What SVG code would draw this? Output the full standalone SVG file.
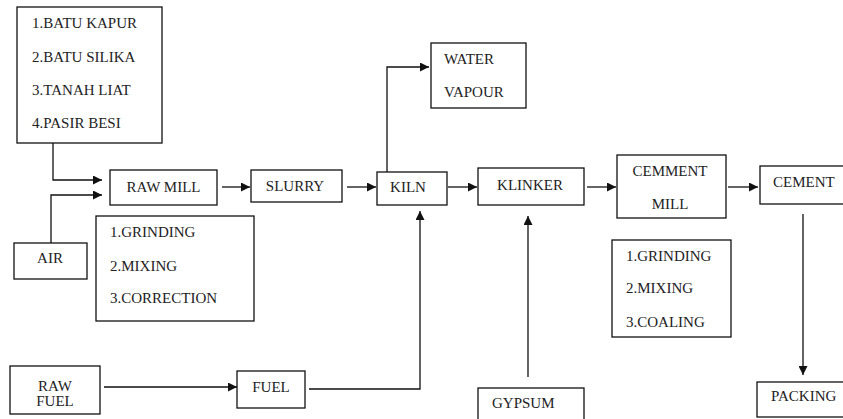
<svg xmlns="http://www.w3.org/2000/svg" width="843" height="419" viewBox="0 0 843 419" font-family="Liberation Serif, DejaVu Serif, serif">
<style>
.b{fill:#fff;stroke:#111;stroke-width:1.3}
.t{font-size:15px;fill:#222}
.c{stroke:#111;stroke-width:1.3;fill:none}
</style>
<defs>
<marker id="ah" viewBox="0 0 10 10" refX="10" refY="5" markerWidth="9" markerHeight="9" markerUnits="userSpaceOnUse" orient="auto">
<path d="M0,0 L10,5 L0,10 z" fill="#111"/>
</marker>
</defs>
<rect width="843" height="419" fill="#fff"/>
<g id="raw-materials"><rect class="b" x="17" y="7" width="145" height="136"/>
<text class="t" x="32" y="28">1.BATU KAPUR</text>
<text class="t" x="32" y="62">2.BATU SILIKA</text>
<text class="t" x="32" y="95">3.TANAH LIAT</text>
<text class="t" x="32" y="128">4.PASIR BESI</text></g>
<g id="raw-mill"><rect class="b" x="110" y="170" width="107" height="35"/>
<text class="t" x="163.5" y="192" text-anchor="middle">RAW MILL</text></g>
<g id="air"><rect class="b" x="14" y="243" width="73" height="36"/>
<text class="t" x="50" y="263" text-anchor="middle">AIR</text></g>
<g id="raw-mill-steps"><rect class="b" x="96" y="216" width="158" height="105"/>
<text class="t" x="110" y="237">1.GRINDING</text>
<text class="t" x="110" y="271">2.MIXING</text>
<text class="t" x="110" y="303">3.CORRECTION</text></g>
<g id="slurry"><rect class="b" x="251" y="170" width="91" height="32"/>
<text class="t" x="295" y="191" text-anchor="middle">SLURRY</text></g>
<g id="kiln"><rect class="b" x="377" y="172" width="70" height="33"/>
<text class="t" x="408" y="192" text-anchor="middle">KILN</text></g>
<g id="water-vapour"><rect class="b" x="431" y="43" width="95" height="65"/>
<text class="t" x="444" y="64">WATER</text>
<text class="t" x="444" y="97">VAPOUR</text></g>
<g id="klinker"><rect class="b" x="478" y="168" width="106" height="37"/>
<text class="t" x="530" y="190" text-anchor="middle">KLINKER</text></g>
<g id="cemment-mill"><rect class="b" x="617" y="155" width="109" height="63"/>
<text class="t" x="670" y="176" text-anchor="middle">CEMMENT</text>
<text class="t" x="670" y="209" text-anchor="middle">MILL</text></g>
<g id="cement-mill-steps"><rect class="b" x="612" y="240" width="119" height="97"/>
<text class="t" x="626" y="261">1.GRINDING</text>
<text class="t" x="626" y="293">2.MIXING</text>
<text class="t" x="626" y="327">3.COALING</text></g>
<g id="cement"><rect class="b" x="760" y="166" width="90" height="38"/>
<text class="t" x="773" y="187">CEMENT</text></g>
<g id="raw-fuel"><rect class="b" x="10" y="366" width="90" height="48"/>
<text class="t" x="55" y="391" text-anchor="middle">RAW</text>
<text class="t" x="55" y="406" text-anchor="middle">FUEL</text></g>
<g id="fuel"><rect class="b" x="237" y="371" width="68" height="37"/>
<text class="t" x="271" y="392" text-anchor="middle">FUEL</text></g>
<g id="gypsum"><rect class="b" x="478" y="388" width="106" height="40"/>
<text class="t" x="492" y="408">GYPSUM</text></g>
<g id="packing"><rect class="b" x="757" y="382" width="95" height="35"/>
<text class="t" x="771" y="401">PACKING</text></g>
<g id="connectors">
<path class="c" d="M53,143 V180 H102" marker-end="url(#ah)"/>
<path class="c" d="M51,243 V195 H102" marker-end="url(#ah)"/>
<path class="c" d="M222,187 H250" marker-end="url(#ah)"/>
<path class="c" d="M347,187 H376" marker-end="url(#ah)"/>
<path class="c" d="M387,172 V67 H429" marker-end="url(#ah)"/>
<path class="c" d="M448,187 H477" marker-end="url(#ah)"/>
<path class="c" d="M587,187 H616" marker-end="url(#ah)"/>
<path class="c" d="M728,187 H758" marker-end="url(#ah)"/>
<path class="c" d="M803,214 V375" marker-end="url(#ah)"/>
<path class="c" d="M104,387 H237" marker-end="url(#ah)"/>
<path class="c" d="M309,389 H420 V211" marker-end="url(#ah)"/>
<path class="c" d="M528,377 V216" marker-end="url(#ah)"/>
</g>
</svg>
